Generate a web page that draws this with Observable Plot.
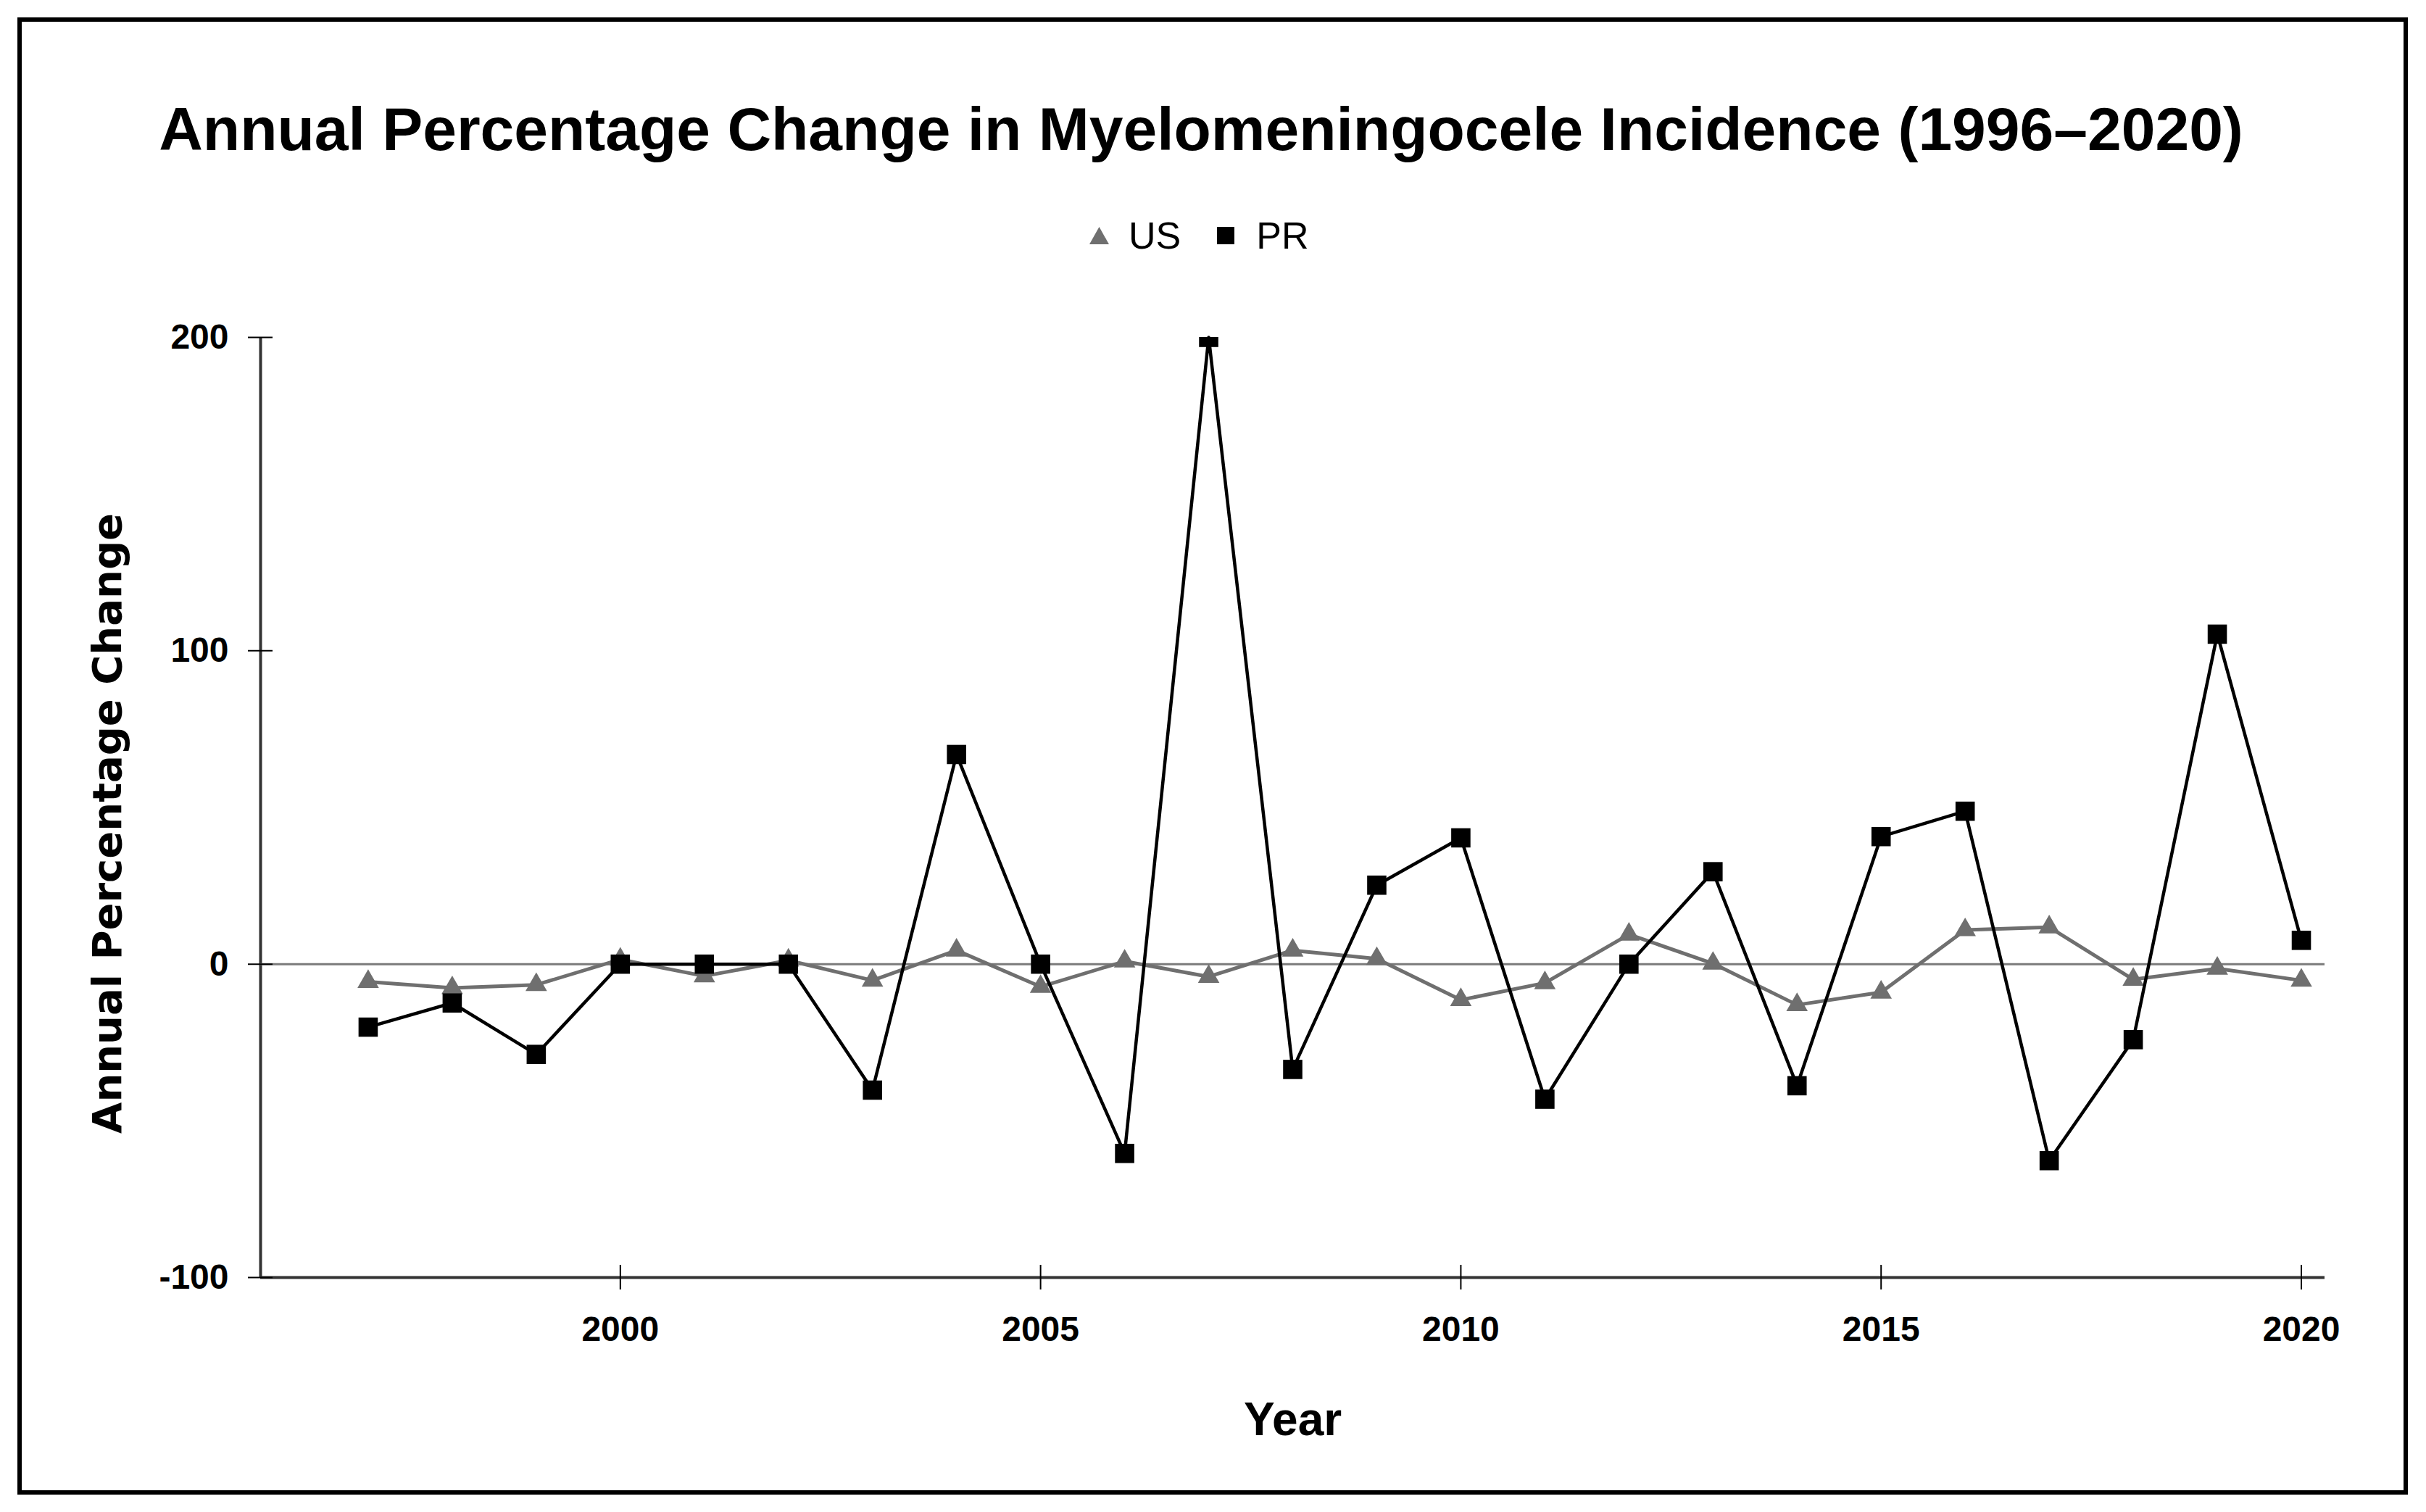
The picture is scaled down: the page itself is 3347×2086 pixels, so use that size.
<!DOCTYPE html>
<html>
<head>
<meta charset="utf-8">
<script src="https://cdn.jsdelivr.net/npm/d3@7"></script>
<script src="https://cdn.jsdelivr.net/npm/@observablehq/plot@0.6"></script>
<style>
  html, body { margin: 0; padding: 0; background: #fff; }
  #wrap { position: relative; width: 3347px; height: 2086px; background: #fff; overflow: hidden; font-family: "Liberation Sans", Arial, sans-serif; }
  #border { position: absolute; left: 24px; top: 24px; width: 3298px; height: 2038px; box-sizing: border-box; border: 6px solid #000; pointer-events: none; }
  #title { position: absolute; left: 0; top: 136px; width: 3314px; text-align: center; font-size: 84px; line-height: 1; font-weight: bold; color: #000; white-space: nowrap; }
  #legend { position: absolute; left: 1503px; top: 295px; height: 60px; display: flex; align-items: center; font-size: 52px; line-height: 1; color: #000; white-space: nowrap; }
  #legend svg { display: block; }
  #chart { position: absolute; left: 0; top: 400px; }
</style>
</head>
<body>
<div id="wrap">
  <div id="title">Annual Percentage Change in Myelomeningocele Incidence (1996–2020)</div>
  <div id="legend"></div>
  <div id="chart"></div>
  <div id="border"></div>
</div>
<script>
// ---- data ----
const years = [1997, 1998, 1999, 2000, 2001, 2002, 2003, 2004, 2005, 2006, 2007, 2008,
               2009, 2010, 2011, 2012, 2013, 2014, 2015, 2016, 2017, 2018, 2019, 2020];
const usValues = [-5.6, -7.6, -6.6, 1.5, -3.8, 1.2, -5.2, 4.4, -7.2, 0.9, -4.0, 4.4,
                  1.7, -11.4, -6.0, 9.5, 0.2, -13.0, -9.0, 10.9, 11.8, -4.9, -1.4, -5.2];
const prValues = [-20.1, -12.4, -28.8, 0, 0, 0, -40.2, 66.9, 0, -60.4, 200, -33.6,
                  25.2, 40.3, -43.1, 0, 29.5, -38.8, 40.7, 48.8, -62.7, -24.1, 105.3, 7.6];
const seriesNames = ["US", "PR"];
const xTicks = [2000, 2005, 2010, 2015, 2020];
const yTicks = [-100, 0, 100, 200];
const xDomain = [1995.72, 2020.28];
const yDomain = [-100, 200];

const usColor = "#6f6f6f";
const prColor = "#000000";

const usData = years.map((y, i) => ({year: y, value: usValues[i], series: seriesNames[0]}));
const prData = years.map((y, i) => ({year: y, value: prValues[i], series: seriesNames[1]}));

// ---- legend ----
const legend = document.getElementById("legend");
legend.innerHTML =
  `<svg width="27" height="24" viewBox="0 0 27 24"><polygon points="13.5,0 27,24 0,24" fill="${usColor}"/></svg>` +
  `<span style="margin-left:27px">${seriesNames[0]}</span>` +
  `<svg width="24" height="24" viewBox="0 0 24 24" style="margin-left:50px"><rect x="0" y="0" width="24" height="24" fill="${prColor}"/></svg>` +
  `<span style="margin-left:30px">${seriesNames[1]}</span>`;

// ---- chart ----
const W = 3347, H = 1640;
const chart = Plot.plot({
  width: W,
  height: H,
  marginLeft: 359,
  marginRight: 140,
  marginTop: 65,
  marginBottom: 278,
  style: {fontFamily: "'Liberation Sans', Arial, sans-serif", fontSize: "48px", background: "#fff", color: "#000", overflow: "visible"},
  x: {domain: xDomain},
  y: {domain: yDomain},
  marks: [
    // axis lines
    Plot.ruleX([xDomain[0]], {y1: yDomain[0], y2: yDomain[1], stroke: "#333", strokeWidth: 4}),
    Plot.ruleY([yDomain[0]], {x1: xDomain[0], x2: xDomain[1], stroke: "#333", strokeWidth: 4}),
    // zero line
    Plot.ruleY([0], {x1: xDomain[0], x2: xDomain[1], stroke: "#7a7a7a", strokeWidth: 3}),
    // tick marks crossing the axes
    Plot.ruleX(xTicks, {x: d => d, y1: yDomain[0], y2: yDomain[0], insetTop: 17, insetBottom: 17, stroke: "#000", strokeWidth: 2}),
    Plot.ruleY(yTicks, {y: d => d, x1: xDomain[0], x2: xDomain[0], insetLeft: -17, insetRight: -17, stroke: "#000", strokeWidth: 2}),
    // tick labels
    Plot.axisX({ticks: xTicks, tickSize: 0, tickPadding: 53, tickFormat: d => String(d), fontSize: 48, fontWeight: "bold", label: null}),
    Plot.axisY({ticks: yTicks, tickSize: 0, tickPadding: 44, tickFormat: d => String(d), fontSize: 48, fontWeight: "bold", label: null}),
    // axis titles
    Plot.text(["Year"], {frameAnchor: "bottom", textAnchor: "middle", lineAnchor: "middle", dy: 197, fontSize: 64, fontWeight: "bold", fill: "#000"}),
    Plot.text(["Annual Percentage Change"], {frameAnchor: "left", textAnchor: "middle", lineAnchor: "middle", rotate: -90, dx: -210, dy: 22, fontSize: 56, fontWeight: "bold", fontFamily: "'DejaVu Sans', Verdana, sans-serif", fill: "#000"}),
    // US series
    Plot.line(usData, {x: "year", y: "value", stroke: usColor, strokeWidth: 5}),
    Plot.dot(usData, {x: "year", y: "value", symbol: "triangle", r: 11, fill: usColor, stroke: "none"}),
    // PR series
    Plot.line(prData, {x: "year", y: "value", stroke: prColor, strokeWidth: 4.5}),
    Plot.dot(prData, {x: "year", y: "value", symbol: "square", r: 15, fill: prColor, stroke: "none", clip: true})
  ]
});
document.getElementById("chart").appendChild(chart);
</script>
</body>
</html>
